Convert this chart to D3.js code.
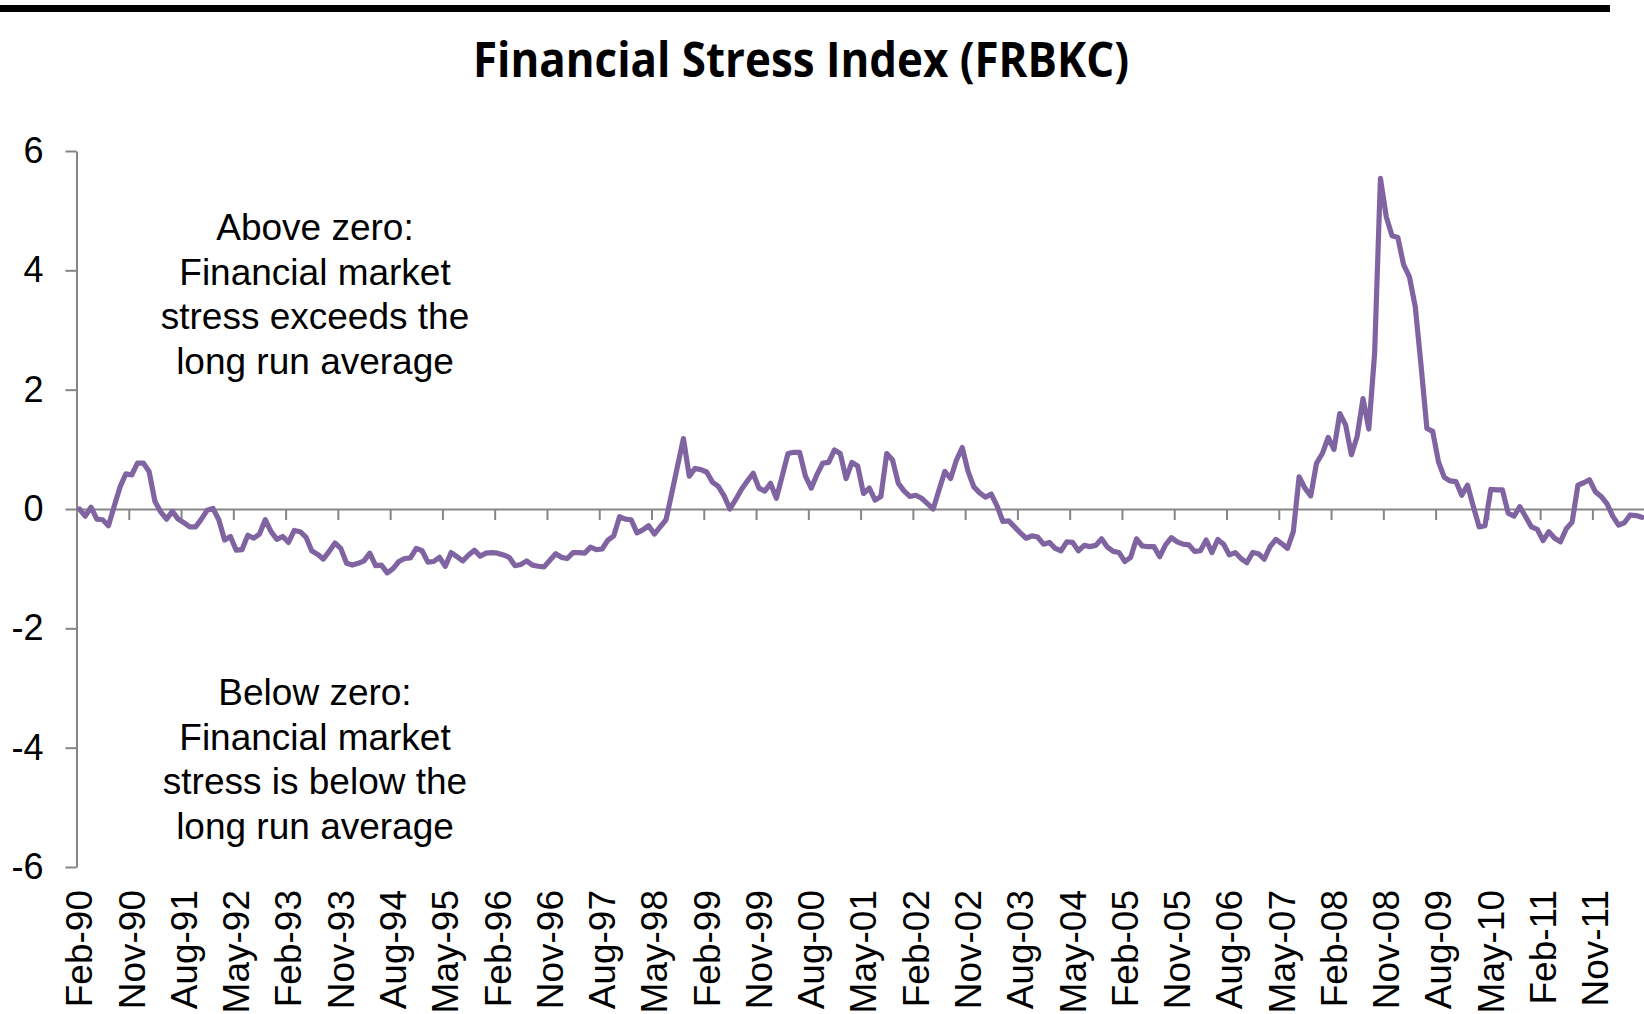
<!DOCTYPE html>
<html lang="en">
<head>
<meta charset="UTF-8">
<title>Financial Stress Index (FRBKC)</title>
<script src="https://cdn.jsdelivr.net/npm/d3@7"></script>
<style>
  body { margin: 0; background: #fff; }
  svg { display: block; font-family: "Liberation Sans", Arial, sans-serif; }
  .axis path, .axis line { stroke: #868686; stroke-width: 2; }
  .axis text { fill: #000; }
</style>
</head>
<body>
<svg id="chart"></svg>
<script>
// monthly index, Feb-90 .. Jul-12
const fsi = [
  0.00, -0.12, 0.03, -0.17, -0.18, -0.28, 0.05, 0.37, 0.59, 0.57,
  0.77, 0.77, 0.63, 0.13, -0.05, -0.17, -0.04, -0.17, -0.23, -0.30,
  -0.30, -0.17, -0.02, 0.01, -0.18, -0.52, -0.46, -0.69, -0.68, -0.44,
  -0.49, -0.42, -0.18, -0.38, -0.51, -0.46, -0.56, -0.36, -0.38, -0.47,
  -0.70, -0.76, -0.84, -0.71, -0.57, -0.66, -0.91, -0.94, -0.91, -0.87,
  -0.74, -0.95, -0.94, -1.07, -1.00, -0.88, -0.83, -0.82, -0.66, -0.70,
  -0.89, -0.88, -0.81, -0.96, -0.73, -0.80, -0.87, -0.77, -0.69, -0.79,
  -0.74, -0.73, -0.74, -0.77, -0.81, -0.95, -0.93, -0.87, -0.94, -0.96,
  -0.97, -0.86, -0.75, -0.81, -0.83, -0.73, -0.73, -0.74, -0.64, -0.68,
  -0.67, -0.52, -0.45, -0.13, -0.17, -0.18, -0.40, -0.35, -0.28, -0.42,
  -0.30, -0.18, 0.27, 0.73, 1.18, 0.55, 0.68, 0.66, 0.62, 0.45,
  0.38, 0.22, 0.00, 0.16, 0.33, 0.47, 0.60, 0.35, 0.30, 0.43,
  0.18, 0.55, 0.93, 0.95, 0.95, 0.55, 0.35, 0.58, 0.77, 0.78,
  0.99, 0.93, 0.51, 0.78, 0.72, 0.26, 0.35, 0.15, 0.21, 0.93,
  0.82, 0.43, 0.30, 0.21, 0.23, 0.18, 0.09, 0.00, 0.32, 0.63,
  0.51, 0.82, 1.03, 0.63, 0.37, 0.27, 0.20, 0.25, 0.05, -0.21,
  -0.20, -0.30, -0.40, -0.49, -0.45, -0.47, -0.59, -0.56, -0.66, -0.70,
  -0.55, -0.56, -0.70, -0.61, -0.63, -0.61, -0.50, -0.64, -0.71, -0.73,
  -0.88, -0.81, -0.50, -0.62, -0.63, -0.63, -0.80, -0.60, -0.48, -0.55,
  -0.59, -0.60, -0.71, -0.70, -0.52, -0.73, -0.51, -0.59, -0.77, -0.73,
  -0.83, -0.90, -0.73, -0.75, -0.84, -0.63, -0.51, -0.58, -0.66, -0.38,
  0.54, 0.35, 0.22, 0.77, 0.93, 1.20, 1.00, 1.60, 1.41, 0.91,
  1.22, 1.85, 1.34, 2.61, 5.54, 4.90, 4.58, 4.55, 4.09, 3.89,
  3.39, 2.40, 1.35, 1.30, 0.79, 0.53, 0.47, 0.46, 0.23, 0.40,
  0.04, -0.30, -0.28, 0.33, 0.32, 0.32, -0.07, -0.12, 0.04, -0.13,
  -0.30, -0.34, -0.53, -0.38, -0.49, -0.55, -0.33, -0.22, 0.40, 0.44,
  0.49, 0.29, 0.21, 0.09, -0.12, -0.27, -0.23, -0.10, -0.11, -0.14
];

// one label every 9 months
const tickLabels = [
  "Feb-90", "Nov-90", "Aug-91", "May-92", "Feb-93", "Nov-93", "Aug-94", "May-95",
  "Feb-96", "Nov-96", "Aug-97", "May-98", "Feb-99", "Nov-99", "Aug-00", "May-01",
  "Feb-02", "Nov-02", "Aug-03", "May-04", "Feb-05", "Nov-05", "Aug-06", "May-07",
  "Feb-08", "Nov-08", "Aug-09", "May-10", "Feb-11", "Nov-11"
];
const labelStep = 9;
const yTicks = [-6, -4, -2, 0, 2, 4, 6];

const noteAbove = ["Above zero:", "Financial market", "stress exceeds the", "long run average"];
const noteBelow = ["Below zero:", "Financial market", "stress is below the", "long run average"];

const width = 1644, height = 1014;
const plotLeft = 76.5, plotRight = 1644.7, plotTop = 151, plotBottom = 867;

const svg = d3.select("#chart").attr("width", width).attr("height", height);

// black rule at the top
svg.append("rect")
  .attr("x", 0).attr("y", 5)
  .attr("width", 1610).attr("height", 7)
  .attr("fill", "#000");

svg.append("text")
  .attr("x", 801).attr("y", 77)
  .attr("text-anchor", "middle")
  .attr("font-family", "'Open Sans', sans-serif")
  .attr("font-weight", 700)
  .attr("font-size", 48)
  .attr("textLength", 656)
  .attr("lengthAdjust", "spacingAndGlyphs")
  .text("Financial Stress Index (FRBKC)");

const x = d3.scaleBand().domain(d3.range(fsi.length)).range([plotLeft, plotRight]);
const xEdge = d3.scaleLinear().domain([0, fsi.length]).range([plotLeft, plotRight]);
const y = d3.scaleLinear().domain([-6, 6]).range([plotBottom, plotTop]);

// y axis
svg.append("g")
  .attr("class", "axis")
  .attr("transform", `translate(${plotLeft},0)`)
  .call(d3.axisLeft(y).tickValues(yTicks).tickFormat(d => String(d))
    .tickSize(11).tickSizeOuter(0).tickPadding(22))
  .call(g => g.selectAll("text").attr("font-size", 36));

// x axis sitting on zero
svg.append("g")
  .attr("class", "axis")
  .attr("transform", `translate(0,${y(0)})`)
  .call(d3.axisBottom(xEdge)
    .tickValues(d3.range(labelStep, fsi.length, labelStep))
    .tickFormat("")
    .tickSize(11)
    .tickSizeOuter(0));

// rotated month labels below the plot
svg.append("g")
  .selectAll("text")
  .data(tickLabels)
  .join("text")
  .attr("transform", (d, k) => `translate(${x(k * labelStep) + x.bandwidth() / 2},890) rotate(-90)`)
  .attr("text-anchor", "end")
  .attr("dy", "0.35em")
  .attr("font-size", 37)
  .text(d => d);

// notes
function note(lines, y0) {
  svg.append("g")
    .selectAll("text")
    .data(lines)
    .join("text")
    .attr("x", 315)
    .attr("y", (d, i) => y0 + i * 44.5)
    .attr("text-anchor", "middle")
    .attr("font-size", 37)
    .text(d => d);
}
note(noteAbove, 240);
note(noteBelow, 705);

const line = d3.line()
  .x((d, i) => x(i) + x.bandwidth() / 2)
  .y(d => y(d));

svg.append("path")
  .datum(fsi)
  .attr("d", line)
  .attr("fill", "none")
  .attr("stroke", "#8064A2")
  .attr("stroke-width", 5.2)
  .attr("stroke-linejoin", "round")
  .attr("stroke-linecap", "round");
</script>
</body>
</html>
